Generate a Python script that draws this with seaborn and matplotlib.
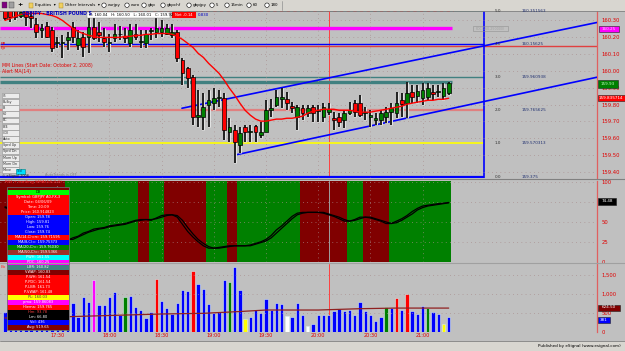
import matplotlib
matplotlib.use("Agg")
import matplotlib.pyplot as plt
import matplotlib.patheffects as pe
from matplotlib.patches import Rectangle, Circle
import pandas as pd
import seaborn as sns

# ---------------- data ----------------
opens = [160.366, 160.361, 160.355, 160.325, 160.355, 160.325, 160.278, 160.237, 160.266, 160.237,
         160.161, 160.161, 160.178, 160.255, 160.149, 160.196, 160.196, 160.255, 160.225, 160.190,
         160.161, 160.190, 160.214, 160.202, 160.161, 160.219, 160.166, 160.161, 160.231, 160.225,
         160.225, 160.219, 160.208, 160.225, 160.061, 160.014, 159.961, 159.725, 159.725, 159.796,
         159.808, 159.837, 159.837, 159.637, 159.649, 159.561, 159.666, 159.637, 159.672, 159.619,
         159.637, 159.766, 159.796, 159.831, 159.831, 159.790, 159.725, 159.778, 159.749, 159.784,
         159.761, 159.725, 159.755, 159.719, 159.725, 159.708, 159.749, 159.808, 159.808, 159.749,
         159.725, 159.708, 159.708, 159.725, 159.755, 159.749, 159.825, 159.808, 159.872, 159.849,
         159.837, 159.843, 159.872, 159.872, 159.849, 159.866]
highs = [160.384, 160.378, 160.378, 160.378, 160.366, 160.355, 160.308, 160.278, 160.284, 160.255,
         160.196, 160.208, 160.225, 160.284, 160.237, 160.225, 160.308, 160.308, 160.284, 160.249,
         160.219, 160.278, 160.266, 160.249, 160.278, 160.278, 160.237, 160.237, 160.249, 160.314,
         160.296, 160.278, 160.278, 160.237, 160.072, 160.019, 159.972, 159.884, 159.866, 159.884,
         159.896, 159.884, 159.866, 159.719, 159.678, 159.666, 159.678, 159.678, 159.678, 159.696,
         159.825, 159.831, 159.884, 159.896, 159.872, 159.814, 159.796, 159.796, 159.796, 159.796,
         159.796, 159.808, 159.808, 159.755, 159.749, 159.766, 159.814, 159.825, 159.855, 159.784,
         159.766, 159.749, 159.766, 159.784, 159.808, 159.872, 159.866, 159.931, 159.914, 159.914,
         159.925, 159.925, 159.914, 159.914, 159.925, 159.931]
lows = [160.296, 160.284, 160.296, 160.308, 160.266, 160.249, 160.190, 160.190, 160.190, 160.108,
        160.131, 160.072, 160.119, 160.161, 160.119, 160.078, 160.102, 160.178, 160.166, 160.137,
        160.108, 160.166, 160.178, 160.161, 160.137, 160.178, 160.131, 160.131, 160.178, 160.190,
        160.196, 160.208, 160.190, 160.049, 159.914, 159.896, 159.678, 159.666, 159.649, 159.666,
        159.766, 159.784, 159.590, 159.578, 159.455, 159.513, 159.578, 159.578, 159.578, 159.602,
        159.637, 159.725, 159.784, 159.778, 159.766, 159.749, 159.649, 159.708, 159.725, 159.696,
        159.696, 159.696, 159.737, 159.649, 159.666, 159.661, 159.737, 159.725, 159.725, 159.708,
        159.666, 159.678, 159.678, 159.690, 159.678, 159.719, 159.725, 159.719, 159.808, 159.808,
        159.796, 159.825, 159.825, 159.843, 159.825, 159.855]
closes = [160.308, 160.314, 160.314, 160.343, 160.314, 160.308, 160.225, 160.249, 160.196, 160.131,
          160.166, 160.166, 160.196, 160.196, 160.190, 160.137, 160.255, 160.190, 160.208, 160.166,
          160.166, 160.219, 160.219, 160.190, 160.237, 160.196, 160.172, 160.219, 160.237, 160.249,
          160.249, 160.249, 160.225, 160.072, 159.984, 159.955, 159.725, 159.737, 159.784, 159.825,
          159.837, 159.843, 159.649, 159.666, 159.578, 159.631, 159.637, 159.643, 159.637, 159.637,
          159.766, 159.778, 159.843, 159.843, 159.808, 159.778, 159.784, 159.749, 159.778, 159.749,
          159.766, 159.784, 159.772, 159.708, 159.696, 159.749, 159.766, 159.755, 159.737, 159.755,
          159.737, 159.719, 159.749, 159.755, 159.778, 159.808, 159.802, 159.866, 159.843, 159.878,
          159.884, 159.896, 159.861, 159.878, 159.896, 159.925]
ma14 = [160.296, 160.308, 160.319, 160.331, 160.337, 160.337, 160.337, 160.337, 160.331, 160.325,
        160.314, 160.296, 160.272, 160.249, 160.231, 160.219, 160.208, 160.202, 160.196, 160.196,
        160.196, 160.196, 160.196, 160.202, 160.202, 160.208, 160.208, 160.214, 160.214, 160.219,
        160.219, 160.219, 160.214, 160.202, 160.184, 160.161, 160.137, 160.102, 160.078, 160.043,
        160.014, 159.984, 159.943, 159.896, 159.855, 159.808, 159.766, 159.737, 159.714, 159.702,
        159.702, 159.708, 159.714, 159.714, 159.719, 159.719, 159.725, 159.731, 159.749, 159.761,
        159.766, 159.772, 159.772, 159.772, 159.766, 159.766, 159.766, 159.761, 159.755, 159.755,
        159.755, 159.761, 159.766, 159.772, 159.778, 159.784, 159.790, 159.802, 159.808, 159.814,
        159.819, 159.825, 159.825, 159.831, 159.831, 159.837]
rsi = [68, 66, 63, 59, 55, 50, 45, 40, 36, 32,
       30, 28, 27, 30, 32, 36, 38, 41, 42, 43,
       45, 46, 47, 48, 50, 52, 53, 53, 52, 55,
       58, 59, 59, 56, 47, 38, 31, 25, 20, 17,
       17, 18, 19, 20, 20, 20, 20, 21, 23, 25,
       28, 33, 40, 45, 51, 57, 61, 62, 62, 62,
       62, 61, 59, 57, 54, 51, 51, 53, 56, 56,
       55, 53, 51, 48, 48, 51, 54, 58, 63, 67,
       70, 71, 72, 73, 73.5, 74.5]
rsi_sma = [69, 67, 65, 61, 57, 53, 48, 43, 38, 34,
           31, 29, 28, 28, 31, 34, 37, 39, 41, 42,
           44, 45, 46, 47, 49, 51, 52, 53, 53, 54,
           56, 58, 59, 58, 52, 43, 35, 28, 23, 19,
           17, 17, 18, 19, 20, 20, 20, 20, 22, 24,
           26, 30, 36, 42, 48, 54, 59, 61, 62, 62,
           62, 62, 60, 58, 56, 53, 51, 52, 54, 56,
           56, 54, 52, 50, 48, 49, 52, 56, 60, 65,
           68, 70, 71, 72, 73, 74]
# RSI trend background: (first bar, last bar, state)
rsi_bands = [(0, 11, "dn"), (12, 25, "up"), (26, 27, "dn"), (28, 30, "up"), (31, 38, "dn"),
             (39, 42, "up"), (43, 44, "dn"), (45, 56, "up"), (57, 65, "dn"), (66, 68, "up"),
             (69, 73, "dn"), (74, 85, "up")]
volume = [528, 600, 450, 700, 800, 650, 900, 700, 600, 1000,
          650, 550, 500, 752, 395, 928, 795, 1373, 707, 707,
          928, 1061, 440, 928, 947, 661, 573, 352, 512, 1400,
          813, 635, 475, 768, 1115, 1088, 1621, 1267, 1140, 730,
          505, 512, 1373, 1320, 1720, 1107, 325, 379, 573, 501,
          867, 573, 768, 733, 413, 395, 768, 448, 147, 200,
          432, 432, 432, 547, 608, 555, 573, 440, 795, 555,
          440, 288, 395, 645, 635, 885, 573, 1000, 555, 467,
          680, 619, 512, 467, 200, 381]
vol_colors = ("b" * 17 + "m" + "b" * 5 + "g" + "b" * 5 + "r" + "b" * 6 + "r" + "b" * 6 + "g"
              + "b" * 2 + "y" + "b" * 7 + "w" + "b" * 3 + "w" + "b" * 14 + "g" + "b" + "r"
              + "b" + "r" + "b" * 3 + "g" + "b" * 2 + "y" + "b")
vol_avg_bars = [0, 12, 20, 30, 38, 45, 50, 60, 68, 75, 85]
vol_avg_vals = [360, 395, 427, 467, 485, 533, 573, 573, 608, 625, 624.5]
price_ticks = [159.40, 159.50, 159.60, 159.70, 159.80, 159.90, 160.00, 160.10, 160.20, 160.30]
rsi_ticks = [0, 25, 50, 75, 100]
rsi_tick_labels = ["0", "25", "50", "", "100"]   # 75 is hidden under the 74.48 flag
vol_ticks = [0, 500, 1000, 1500]
vol_tick_labels = ["0", "500", "1,000", "1,500"]
time_bars = [10, 20, 30, 40, 50, 60, 70, 80]
time_labels = ["17:30", "18:00", "18:30", "19:00", "19:30", "20:00", "20:30", "21:00"]
fib_names = ["0.0", "1.0", "2.0", "3.0", "4.0", "5.0"]
fib_prices = [159.375, 159.570313, 159.765625, 159.960938, 160.15625, 160.351563]
fib_value_labels = ["159.375", "159.570313", "159.765625", "159.960938", "160.15625", "160.351563"]
upper_channel = ([33.9, 113.4], [159.778, 160.284])
lower_channel = ([44.06, 113.4], [159.502, 159.961])
info_rows = [("D8", "#00ff00", "black"), ("Symbol: GBPJPY A0-FX,3", "#ff0000", "white"),
             ("Date: 04/06/09", "#ff0000", "white"), ("Time: 20:09", "#ff0000", "white"),
             ("Price: 160.914823", "#ff0000", "white"), ("Open: 159.78", "#0000ff", "white"),
             ("High: 159.81", "#0000ff", "white"), ("Low: 159.76", "#0000ff", "white"),
             ("Close: 159.74", "#0000ff", "white"), ("MA(14,C)=rc: 159.71595", "#ff0000", "white"),
             ("MA(8,C)=: 159.75373", "#0000ff", "white"), ("MA(20,C)=: 159.76030", "#008000", "white"),
             ("MA(50,C)=: 159.5366", "#a03028", "white"), ("PWH: 161.55", "#00ffff", "white"),
             ("PDC: 160.25", "#ff00ff", "white"), ("LBR: 160.82", "#408080", "white"),
             ("VWAP: 160.83", "#800000", "white"), ("P-WH: 161.54", "#ff0000", "white"),
             ("P-PDC: 161.54", "#ff0000", "white"), ("P-LBR: 161.73", "#ff0000", "white"),
             ("P-VWAP: 161.48", "#ff0000", "white"), ("PL: 160.03", "#ffff00", "#404040"),
             ("pma: 159.86083", "#ff00ff", "white"), ("Hiema: 159.765", "#ff0000", "white"),
             ("Hm: 93.78", "#000000", "#ff4040"), ("Lm: 66.80", "#000000", "white"),
             ("Vol: 436", "#0000ff", "white"), ("Avg: 519.65", "#800000", "white")]
buttons = ["Ct", "Bulby", "B", "60", "EC", "B/4", "CDI", "Auto", "Sprd Up", "Sprd Dn",
           "Mom Up", "Mom Dn", "Move"]

# ---------------- layout ----------------
sns.set_theme(style="white")
plt.rcParams["font.family"] = ["DejaVu Sans"]

W, H = 625, 351
BG = "#c0c0c0"
X0, XSTEP = 5.0, 5.22
XL, XR = -X0 / XSTEP, (597 - X0) / XSTEP


def rect(x0, y0, x1, y1):
    return [x0 / W, 1 - y1 / H, (x1 - x0) / W, (y1 - y0) / H]


def bx(px):
    return (px - X0) / XSTEP


fig = plt.figure(figsize=(6.25, 3.51), dpi=100)
fig.patch.set_facecolor(BG)

gridkw = dict(color="#a88c8c", linestyle=(0, (1, 4.5)), linewidth=0.55)


def style_axes(ax):
    ax.set_facecolor(BG)
    for s in ["top", "left", "bottom"]:
        ax.spines[s].set_visible(False)
    ax.spines["right"].set_color("#e06060")
    ax.spines["right"].set_linewidth(0.9)
    ax.yaxis.tick_right()
    ax.tick_params(axis="y", colors="#e00000", labelsize=3.8, length=0, pad=3)
    ax.set_xlim(XL, XR)
    ax.set_xticks(time_bars)
    ax.set_axisbelow(False)
    ax.grid(True, **gridkw)
    ax.set_xlabel("")
    ax.set_ylabel("")


bars = list(range(len(opens)))

# ---- price panel ----
ax_p = fig.add_axes(rect(0, 10.5, 597, 178))
ax_p.set_ylim(159.3665, 160.3547)

# horizontal levels
ax_p.hlines(fib_prices[5], XL, bx(454), color="#408080", lw=1.2, zorder=1.5)
ax_p.hlines(fib_prices[5], XL, bx(454), color="#ff0000", lw=1.2, linestyles=(0, (2, 2)), zorder=1.6)
ax_p.hlines(fib_prices[5], bx(454), bx(484), color="#408080", lw=1.2, zorder=1.5)
ax_p.hlines(160.25, XL, bx(452), color="#ff00ff", lw=2.4, zorder=1.5)
ax_p.hlines(fib_prices[4], XL, bx(484), color="#0000ff", lw=1.0, zorder=1.5)
ax_p.hlines(160.143, XL, XR, color="#e04040", lw=1.0, zorder=1.5)
ax_p.hlines(fib_prices[3], XL, bx(484), color="#408080", lw=1.0, zorder=1.5)
ax_p.hlines(159.933, XL, bx(452), color="#408080", lw=2.4, zorder=1.5)
ax_p.hlines(fib_prices[2], XL, bx(484), color="#e08080", lw=1.6, zorder=1.5)
ax_p.hlines(fib_prices[1], XL, bx(484), color="#ffff00", lw=1.2, zorder=1.5)
ax_p.hlines(fib_prices[0], XL, bx(484), color="#0000ff", lw=1.6, zorder=1.5)
ax_p.axvline(bx(484), color="#0000ff", lw=1.2, zorder=1.5)
ax_p.axvline(62, color="#ff4040", lw=0.7, zorder=1.4)
ax_p.plot(*upper_channel, color="#0000ff", lw=1.2, zorder=3)
ax_p.plot(*lower_channel, color="#0000ff", lw=1.2, zorder=3)

# candles
wick = ax_p.vlines(bars, lows, highs, color="black", lw=1.2, zorder=4)
wick.set_path_effects([pe.withStroke(linewidth=2.2, foreground="#e2e2e2")])
body_bottom = [min(o, c) for o, c in zip(opens, closes)]
body_h = [max(abs(c - o), 0.004) for o, c in zip(opens, closes)]
body_col = ["#008000" if c > o else "#ff0000" for o, c in zip(opens, closes)]
ax_p.bar(bars, body_h, bottom=body_bottom, width=0.72, color=body_col,
         edgecolor="black", linewidth=0.5, zorder=5)

sns.lineplot(x=bars, y=ma14, color="#ff0000", lw=1.0, ax=ax_p, zorder=6, legend=False)
style_axes(ax_p)
ax_p.set_ylim(159.3665, 160.3547)
ax_p.set_yticks(price_ticks, labels=[f"{p:.2f}" for p in price_ticks])
ax_p.tick_params(axis="x", labelbottom=False, length=0)

# ---- RSI panel ----
ax_r = fig.add_axes(rect(0, 180.5, 597, 262))
for s, e, st in rsi_bands:
    ax_r.axvspan(s - 0.5 if s > 0 else XL, e + 0.5,
                 color="#008000" if st == "up" else "#800000", lw=0, zorder=0.8)
ax_r.axvline(62, color="#a0a0a0", lw=0.7, zorder=1)
sns.lineplot(x=bars, y=rsi_sma, color="black", lw=0.9, ax=ax_r, zorder=3, legend=False)
sns.lineplot(x=bars, y=rsi, color="black", lw=0.9, ax=ax_r, zorder=3, legend=False)
style_axes(ax_r)
ax_r.set_ylim(-0.4, 102.1)
ax_r.set_yticks(rsi_ticks, labels=rsi_tick_labels)
ax_r.tick_params(axis="x", labelbottom=False, length=0)

# ---- volume panel ----
ax_v = fig.add_axes(rect(0, 264, 597, 332))
vdf = pd.DataFrame({"bar": bars, "vol": volume, "col": list(vol_colors)})
pal = {"b": "#0000ff", "m": "#ff00ff", "r": "#ff0000", "g": "#008000", "y": "#ffff00", "w": "#ffffff"}
sns.barplot(data=vdf, x="bar", y="vol", hue="col", palette=pal, native_scale=True, dodge=False,
            errorbar=None, saturation=1, width=0.64, legend=False, edgecolor="#d8eeee",
            linewidth=0.4, ax=ax_v, zorder=2)
sns.lineplot(x=vol_avg_bars, y=vol_avg_vals, color="#902020", lw=0.9, ax=ax_v, zorder=3, legend=False)
ax_v.axvline(62, color="#ff4040", lw=0.7, zorder=1)
style_axes(ax_v)
ax_v.set_ylim(-13, 1800)
ax_v.set_yticks(vol_ticks, labels=vol_tick_labels)
ax_v.set_xticks(time_bars, labels=time_labels)
ax_v.tick_params(axis="x", colors="#e00000", labelsize=3.6, length=0, pad=0.5)
ax_v.grid(False, axis="x")

# ---------------- overlay (UI text and boxes) ----------------
ui = fig.add_axes([0, 0, 1, 1], zorder=20)
ui.set_xlim(0, W)
ui.set_ylim(H, 0)
ui.axis("off")
ui.patch.set_alpha(0)


def R(x0, y0, x1, y1, fc, ec="none", lw=0.5, z=1):
    ui.add_patch(Rectangle((x0, y0), x1 - x0, y1 - y0, facecolor=fc, edgecolor=ec, linewidth=lw, zorder=z))


def T(x, y, s, size=3.2, color="black", ha="left", va="center", weight="normal", z=3):
    ui.text(x, y, s, fontsize=size, color=color, ha=ha, va=va, fontweight=weight, zorder=z)


# toolbar
R(0, 0, W, 10.5, "#d8d6d0")
ui.plot([0, W], [10.5, 10.5], color="#808080", lw=0.6)
R(2, 2, 7, 8, "#800080", "#404040", 0.3)
R(9, 2, 14, 8, "#a0a0a0", "#404040", 0.3)
T(17, 5, "+", 4.5, "black", weight="bold")
for fx, name in [(29, "Equities  \u25be"), (59, "Other Intervals  \u25be")]:
    R(fx, 3, fx + 4, 7.5, "#f0d060", "#a08020", 0.3)
    T(fx + 6, 5.2, name, 2.9)
for cx, name in [(104, "eurjpy"), (127, "euro"), (144, "gbp"), (163, "gbpchf"), (189, "gbpjpy"),
                 (212, "5"), (227, "15min"), (249, "60"), (267, "180")]:
    ui.add_patch(Circle((cx, 5.2), 2.2, facecolor="white", edgecolor="black", lw=0.4, zorder=2))
    T(cx + 3.5, 5.2, name, 2.9)
ui.plot([282, 282], [1, 10], color="#909090", lw=0.5)

# price panel header
T(22, 14, "GBPJPY - BRITISH POUND S", 3.3, "#0000c0", weight="bold")
R(87, 11.5, 170, 17.5, "white", "#808080", 0.3)
T(89, 14.5, "O: 160.04   H: 160.50   L: 160.01   C: 159.92", 2.7)
R(172, 11.5, 196, 17.5, "#ff0000", "none")
T(184, 14.5, "Net -0.14", 2.7, "white", ha="center")
T(198, 14.5, "0.830", 2.8, "#0000c0")
T(1, 43, "pp", 3.0, "#e00000")
T(1, 48.5, "Fp", 3.0, "#e00000")
T(2, 66, "MM Lines (Start Date: October 2, 2008)", 3.3, "#e00000")
T(2, 72, "Alert MA(14)", 3.3, "#e00000")
T(2, 176.5, "\u00a9 eSignal 2008", 2.4, "#202020")
T(45, 174.5, "AutoTrends is OFF", 2.5, "#808080")
R(473, 26, 508, 31, "none", "#909090", 0.4)
T(490.5, 28.5, "PDC(160.250000)", 2.3, "#a0a0a0", ha="center")

# buttons
for k, name in enumerate(buttons):
    y0 = 92.7 + k * 6.2
    R(1.7, y0, 19, y0 + 5.8, "#ececec", "#909090", 0.4)
    T(3, y0 + 2.9, name, 2.4, "#303030")
R(16, 168.5, 25, 173.5, "#00e0ff", "#008080", 0.4)
T(20.5, 171, "Tool", 2.3, "#004060", ha="center")

# fibonacci labels
for name, p, lab in zip(fib_names, fib_prices, fib_value_labels):
    yy = 19.3 + (160.30 - p) * 170
    T(495, yy, name, 3.0, "#303030")
    T(522, yy, lab, 3.0, "#203070")

# right-axis value flags
for (x0, y0, x1, y1, fc, tc, s) in [(599, 26, 619, 31.5, "#ff00ff", "#ffd0ff", "160.25"),
                                    (598, 80, 618, 88, "#008000", "#c0ffc0", "159.93"),
                                    (597.5, 95, 625, 101, "#ff0000", "white", "159.835714"),
                                    (598, 198, 616, 204.5, "#000000", "white", "74.48"),
                                    (598, 304.5, 620, 310.5, "#800000", "white", "624.50"),
                                    (598, 317, 610, 322.5, "#0000ff", "white", "381")]:
    R(x0, y0, x1, y1, fc, "#202020", 0.4)
    T((x0 + x1) / 2, (y0 + y1) / 2, s, 3.0, tc, ha="center")

# panel titles
T(5, 182.5, "RSI + trailing SMA(14,2,0)", 3.2, "#ff3030")
T(1, 266.5, "Bo", 3.0, "#ff3030")

# data box
R(7, 186.5, 68.5, 190, "#800000", "none")
for k, (s, fc, tc) in enumerate(info_rows):
    y0 = 189.5 + k * 5.0
    R(7, y0, 68.5, y0 + 5.0, fc, "none")
    T(37.75, y0 + 2.5, s, 2.6, tc, ha="center")
R(7, 186.5, 68.5, 329.5, "none", "#707070", 0.6, z=4)

# separators and bottom strip
ui.plot([0, W], [179.2, 179.2], color="#808080", lw=0.8)
ui.plot([0, W], [262.8, 262.8], color="#a0a0a0", lw=0.8)
R(0, 341, W, H, "#d8d6d0")
ui.plot([0, W], [341, 341], color="#808080", lw=0.6)
T(621, 346.3, "Published by eSignal (www.esignal.com)", 3.0, "black", ha="right")

fig.savefig("out.png", dpi=100, facecolor=fig.get_facecolor())
